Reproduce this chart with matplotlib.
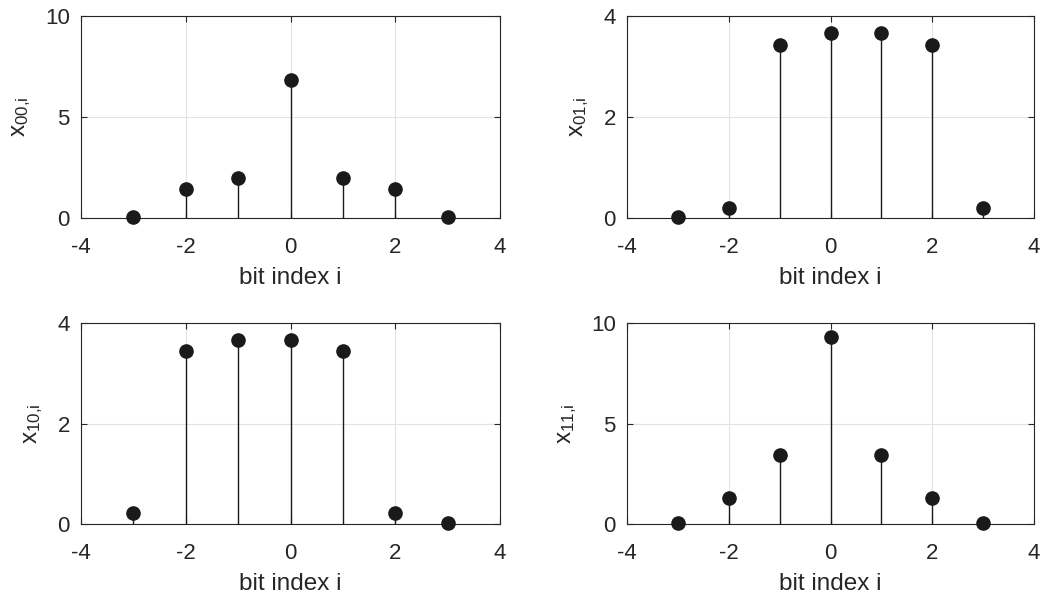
import numpy as np
import matplotlib
matplotlib.use('Agg')
import matplotlib.pyplot as plt

plt.rcParams['font.family'] = 'Liberation Sans'
plt.rcParams['mathtext.fontset'] = 'custom'
plt.rcParams['mathtext.rm'] = 'Liberation Sans'
plt.rcParams['mathtext.it'] = 'Liberation Sans'
plt.rcParams['axes.unicode_minus'] = False

# bit index and the four sequences
bit_index = [-3, -2, -1, 0, 1, 2, 3]
x00 = [0.05, 1.43, 1.96, 6.82, 1.96, 1.43, 0.05]
x01 = [0.01, 0.20, 3.43, 3.66, 3.66, 3.43, 0.20]
x10 = [0.21, 3.44, 3.67, 3.67, 3.44, 0.21, 0.01]
x11 = [0.07, 1.27, 3.41, 9.30, 3.41, 1.27, 0.07]

labels = ['00', '01', '10', '11']
series = [x00, x01, x10, x11]
ymax = [10, 4, 4, 10]
yticks = [[0, 5, 10], [0, 2, 4], [0, 2, 4], [0, 5, 10]]
xticks = [-4, -2, 0, 2, 4]

axis_col = '#262626'
fig = plt.figure(figsize=(10.58, 5.96), dpi=100)
W, H = 1058, 596
boxes = [(81, 16, 500, 218), (627, 16, 1034, 218),
         (81, 323, 500, 524), (627, 323, 1034, 524)]

for box, lab, y, top, yt in zip(boxes, labels, series, ymax, yticks):
    x0, y0, x1, y1 = box
    ax = fig.add_axes([x0 / W, 1 - y1 / H, (x1 - x0) / W, (y1 - y0) / H])
    ml, sl, bl = ax.stem(bit_index, y, basefmt=' ')
    plt.setp(sl, color='#1a1a1a', linewidth=1.0)
    plt.setp(ml, color='#1a1a1a', markersize=9.5, clip_on=False, zorder=4)
    ax.set_xlim(-4, 4)
    ax.set_ylim(0, top)
    ax.set_xticks(xticks)
    ax.set_yticks(yt)
    ax.grid(True, color='#e3e3e3', linewidth=0.8)
    ax.set_axisbelow(True)
    for s in ax.spines.values():
        s.set_color(axis_col)
        s.set_linewidth(0.8)
    ax.tick_params(direction='in', length=4, width=0.8, colors=axis_col,
                   labelsize=16, top=True, right=True)
    ax.tick_params(axis='x', pad=13.5)
    ax.tick_params(axis='y', pad=8)
    ax.set_xlabel('bit index i', fontsize=17.5, color=axis_col, labelpad=7)
    ax.set_ylabel(r'$\mathregular{x_{' + lab + '{,}i}}$', fontsize=17.5,
                  color=axis_col, labelpad=9)

fig.savefig('out.png', dpi=100, facecolor='white')
